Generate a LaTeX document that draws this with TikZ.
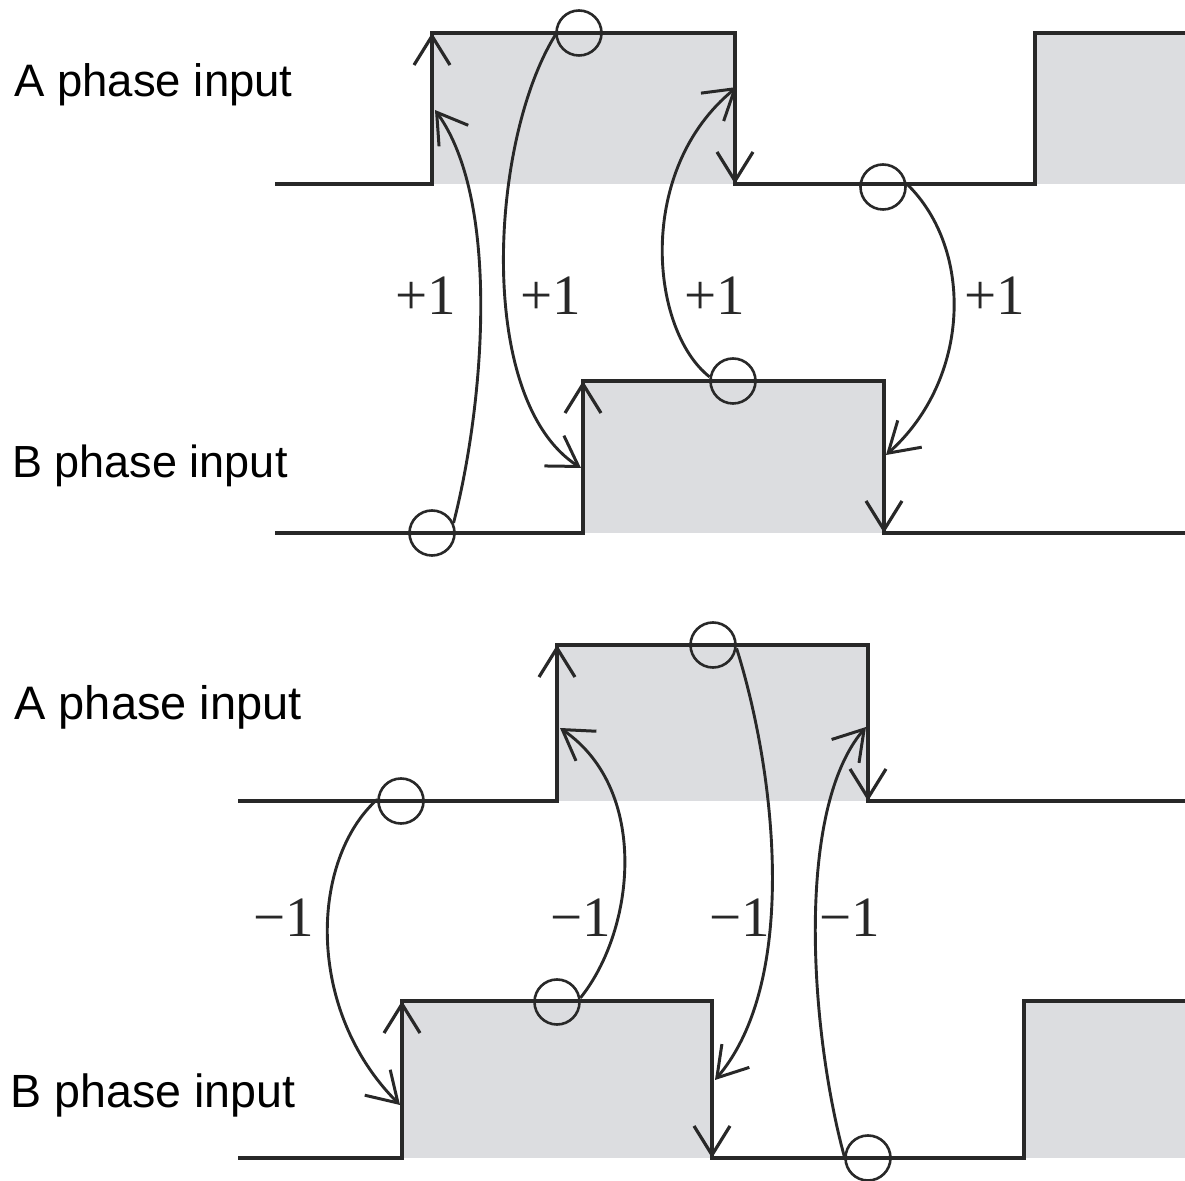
\documentclass[tikz,border=0pt]{standalone}
\usepackage{fontspec}
\setmainfont{Liberation Sans}
\newfontfamily\tallyfont{Liberation Serif}
\usetikzlibrary{arrows.meta}

\definecolor{linegray}{RGB}{40,40,40}
\definecolor{fillgray}{RGB}{220,221,224}

\tikzset{
	wave/.style={draw=linegray, line width=1.6pt},
	edgetip/.style={wave, -{Straight Barb[length=14.5pt, width=18pt, line width=1.6pt]}},
	spot/.style={circle, draw=linegray, line width=1.3pt, minimum size=22.5pt, inner sep=0pt},
	tally/.style={draw=linegray, line width=1.45pt, -{Straight Barb[length=14.5pt, width=18pt, line width=1.5pt]}},
	tallylabel/.style={inner sep=0pt, text=linegray, font=\tallyfont\fontsize{28.5}{30}\selectfont},
	phaselabel/.style={anchor=base west, inner sep=0pt, text=black}
}

\begin{document}
\begin{tikzpicture}[x=0.5pt, y=-0.5pt]
			\useasboundingbox (0,0) rectangle (1185,1181);

			\fill [fillgray] (432,33) rectangle (735,184) (1035,33) rectangle (1185,184) (583,381) rectangle (884,533);
			\draw [wave] (275,184) -- (432,184) -- (432,33) -- (735,33) -- (735,184) -- (1035,184) -- (1035,33) -- (1185,33);
			\draw [wave] (275,533) -- (583,533) -- (583,381) -- (884,381) -- (884,533) -- (1185,533);
			\draw [edgetip] (432,120) -- (432,33);
			\draw [edgetip] (735,100) -- (735,184);
			\draw [edgetip] (583,460) -- (583,381);
			\draw [edgetip] (884,450) -- (884,533);

			\node [phaselabel, font=\fontsize{22.75}{25}\selectfont] (uppera) at (14,97) {A phase input};
			\node [phaselabel, font=\fontsize{22.5}{25}\selectfont] (upperb) at (12,478) {B phase input};

			\node [spot] (up1) at (432,533) {};
			\node [spot] (up2) at (579,33) {};
			\node [spot] (up3) at (733,381) {};
			\node [spot] (up4) at (883,187) {};
			\coordinate (uptip1) at (435,110);
			\coordinate (uptip2) at (581,468);
			\coordinate (uptip3) at (737,87);
			\coordinate (uptip4) at (886,455);

			\draw [tally] (up1.25) .. controls (485,400) and (500,200) .. (uptip1);
			\draw [tally] (up2.185) .. controls (490,140) and (475,400) .. (uptip2);
			\draw [tally] (up3.170) .. controls (650,330) and (635,170) .. (uptip3);
			\draw [tally] (up4.8) .. controls (975,250) and (970,380) .. (uptip4);

			\node [tallylabel] (plus1) at (426,296) {+1};
			\node [tallylabel] (plus2) at (551,296) {+1};
			\node [tallylabel] (plus3) at (715,296) {+1};
			\node [tallylabel] (plus4) at (995,296) {+1};

			\fill [fillgray] (557,645) rectangle (868,801) (402,1001) rectangle (712,1158) (1024,1001) rectangle (1185,1158);
			\draw [wave] (238,801) -- (557,801) -- (557,645) -- (868,645) -- (868,801) -- (1185,801);
			\draw [wave] (238,1158) -- (402,1158) -- (402,1001) -- (712,1001) -- (712,1158) -- (1024,1158) -- (1024,1001) -- (1185,1001);
			\draw [edgetip] (557,720) -- (557,645);
			\draw [edgetip] (868,720) -- (868,801);
			\draw [edgetip] (402,1080) -- (402,1001);
			\draw [edgetip] (712,1080) -- (712,1158);

			\node [phaselabel, font=\fontsize{23.5}{25}\selectfont] (lowera) at (14,720) {A phase input};
			\node [phaselabel, font=\fontsize{23.3}{25}\selectfont] (lowerb) at (10,1108) {B phase input};

			\node [spot] (low1) at (401,801) {};
			\node [spot] (low2) at (557,1002) {};
			\node [spot] (low3) at (713,645) {};
			\node [spot] (low4) at (868,1158) {};
			\coordinate (lowtip1) at (400,1105);
			\coordinate (lowtip2) at (560,728);
			\coordinate (lowtip3) at (715,1080);
			\coordinate (lowtip4) at (866,727);

			\draw [tally] (low1.176) .. controls (310,860) and (305,1010) .. (lowtip1);
			\draw [tally] (low2.10) .. controls (635,930) and (650,790) .. (lowtip2);
			\draw [tally] (low3.-8) .. controls (775,770) and (800,980) .. (lowtip3);
			\draw [tally] (low4.176) .. controls (810,1030) and (795,810) .. (lowtip4);

			\node [tallylabel] (minus1) at (284,918) {−1};
			\node [tallylabel] (minus2) at (581,918) {−1};
			\node [tallylabel] (minus3) at (740,918) {−1};
			\node [tallylabel] (minus4) at (850,918) {−1};
		\end{tikzpicture}
\end{document}
